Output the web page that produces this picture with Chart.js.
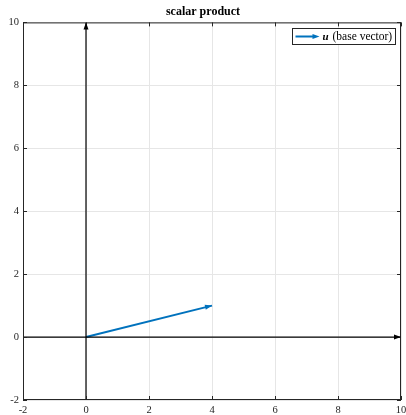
<!DOCTYPE html>
<html>
<head>
<meta charset="utf-8">
<script src="https://cdn.jsdelivr.net/npm/chart.js@4"></script>
<style>
  html, body { margin: 0; padding: 0; background: #fff; }
  #wrap { width: 406px; height: 415px; }
</style>
</head>
<body>
<div id="wrap"><canvas id="c"></canvas></div>
<script>
// Axis limits and ticks
const xTicks = [-2, 0, 2, 4, 6, 8, 10];
const yTicks = [-2, 0, 2, 4, 6, 8, 10];

// Coordinate axes through the origin
const xAxisLine = [{x: -2, y: 0}, {x: 10, y: 0}];
const yAxisLine = [{x: 0, y: -2}, {x: 0, y: 10}];

// Base vector u
const vecU = [{x: 0, y: 0}, {x: 4, y: 1}];

const SERIF = '"Liberation Serif", "DejaVu Serif", serif';
const BLUE = '#0072BD';

function drawArrowHead(ctx, x0, y0, x1, y1, color, len, half) {
  const a = Math.atan2(y1 - y0, x1 - x0);
  ctx.save();
  ctx.fillStyle = color;
  ctx.beginPath();
  ctx.moveTo(x1, y1);
  ctx.lineTo(x1 - len * Math.cos(a) + half * Math.sin(a), y1 - len * Math.sin(a) - half * Math.cos(a));
  ctx.lineTo(x1 - len * Math.cos(a) - half * Math.sin(a), y1 - len * Math.sin(a) + half * Math.cos(a));
  ctx.closePath();
  ctx.fill();
  ctx.restore();
}

const decorations = {
  id: 'decorations',
  afterDatasetsDraw(chart) {
    const {ctx, chartArea: ca, scales: {x, y}} = chart;
    // box
    ctx.save();
    ctx.strokeStyle = '#262626';
    ctx.lineWidth = 1;
    ctx.strokeRect(ca.left + 0.5, ca.top + 0.5, ca.right - ca.left - 1, ca.bottom - ca.top - 1);
    // inward tick marks on all four sides
    ctx.beginPath();
    const tl = 4;
    xTicks.forEach(v => {
      const px = Math.round(x.getPixelForValue(v)) + 0.5;
      ctx.moveTo(px, ca.bottom); ctx.lineTo(px, ca.bottom - tl);
      ctx.moveTo(px, ca.top); ctx.lineTo(px, ca.top + tl);
    });
    yTicks.forEach(v => {
      const py = Math.round(y.getPixelForValue(v)) + 0.5;
      ctx.moveTo(ca.left, py); ctx.lineTo(ca.left + tl, py);
      ctx.moveTo(ca.right, py); ctx.lineTo(ca.right - tl, py);
    });
    ctx.stroke();
    ctx.restore();

    // arrow heads
    drawArrowHead(ctx, x.getPixelForValue(xAxisLine[0].x), y.getPixelForValue(xAxisLine[0].y),
      x.getPixelForValue(xAxisLine[1].x), y.getPixelForValue(xAxisLine[1].y), '#000', 7, 2.5);
    drawArrowHead(ctx, x.getPixelForValue(yAxisLine[0].x), y.getPixelForValue(yAxisLine[0].y),
      x.getPixelForValue(yAxisLine[1].x), y.getPixelForValue(yAxisLine[1].y), '#000', 7, 2.5);
    drawArrowHead(ctx, x.getPixelForValue(vecU[0].x), y.getPixelForValue(vecU[0].y),
      x.getPixelForValue(vecU[1].x), y.getPixelForValue(vecU[1].y), BLUE, 7, 2.5);

    // legend
    ctx.save();
    const lx = 292.5, ly = 28.5, lw = 103, lh = 16;
    ctx.fillStyle = '#fff';
    ctx.fillRect(lx, ly, lw, lh);
    ctx.strokeStyle = '#262626';
    ctx.lineWidth = 1;
    ctx.strokeRect(lx, ly, lw, lh);
    const my = ly + lh / 2;
    ctx.strokeStyle = BLUE;
    ctx.lineWidth = 2;
    ctx.beginPath();
    ctx.moveTo(lx + 3, my); ctx.lineTo(lx + 22, my);
    ctx.stroke();
    drawArrowHead(ctx, lx + 3, my, lx + 27, my, BLUE, 7, 2.5);
    ctx.fillStyle = '#000';
    ctx.textBaseline = 'middle';
    ctx.font = 'italic bold 11px ' + SERIF;
    ctx.fillText('u', lx + 30, my + 0.5);
    const uw = ctx.measureText('u').width;
    ctx.font = '11.5px ' + SERIF;
    ctx.fillText(' (base vector)', lx + 31 + uw, my + 0.5);
    ctx.restore();
  }
};

new Chart(document.getElementById('c'), {
  type: 'scatter',
  data: {
    datasets: [
      {label: 'x axis', data: xAxisLine, showLine: true, borderColor: '#000', borderWidth: 1.2, pointRadius: 0},
      {label: 'y axis', data: yAxisLine, showLine: true, borderColor: '#000', borderWidth: 1.2, pointRadius: 0},
      {label: 'u (base vector)', data: vecU, showLine: true, borderColor: BLUE, borderWidth: 2, pointRadius: 0}
    ]
  },
  options: {
    responsive: true,
    maintainAspectRatio: false,
    animation: false,
    layout: {padding: {left: 0, right: 0, top: 0, bottom: 0}},
    plugins: {
      legend: {display: false},
      tooltip: {enabled: false},
      title: {
        display: true,
        text: 'scalar product',
        color: '#000',
        font: {family: SERIF, size: 12, weight: 'bold'},
        padding: {top: 5, bottom: 3}
      }
    },
    scales: {
      x: {
        type: 'linear', min: -2, max: 10,
        afterBuildTicks: s => { s.ticks = xTicks.map(v => ({value: v})); },
        afterFit: s => { s.height = 15; s.paddingLeft = 0; s.paddingRight = 5; },
        ticks: {color: '#262626', font: {family: SERIF, size: 10.5}, padding: 4, maxRotation: 0},
        grid: {color: '#e6e6e6', drawTicks: false, lineWidth: 1},
        border: {display: false}
      },
      y: {
        type: 'linear', min: -2, max: 10,
        afterBuildTicks: s => { s.ticks = yTicks.map(v => ({value: v})); },
        afterFit: s => { s.width = 23; s.paddingTop = 0; s.paddingBottom = 0; },
        ticks: {color: '#262626', font: {family: SERIF, size: 10.5}, padding: 4},
        grid: {color: '#e6e6e6', drawTicks: false, lineWidth: 1},
        border: {display: false}
      }
    }
  },
  plugins: [decorations]
});
</script>
</body>
</html>
